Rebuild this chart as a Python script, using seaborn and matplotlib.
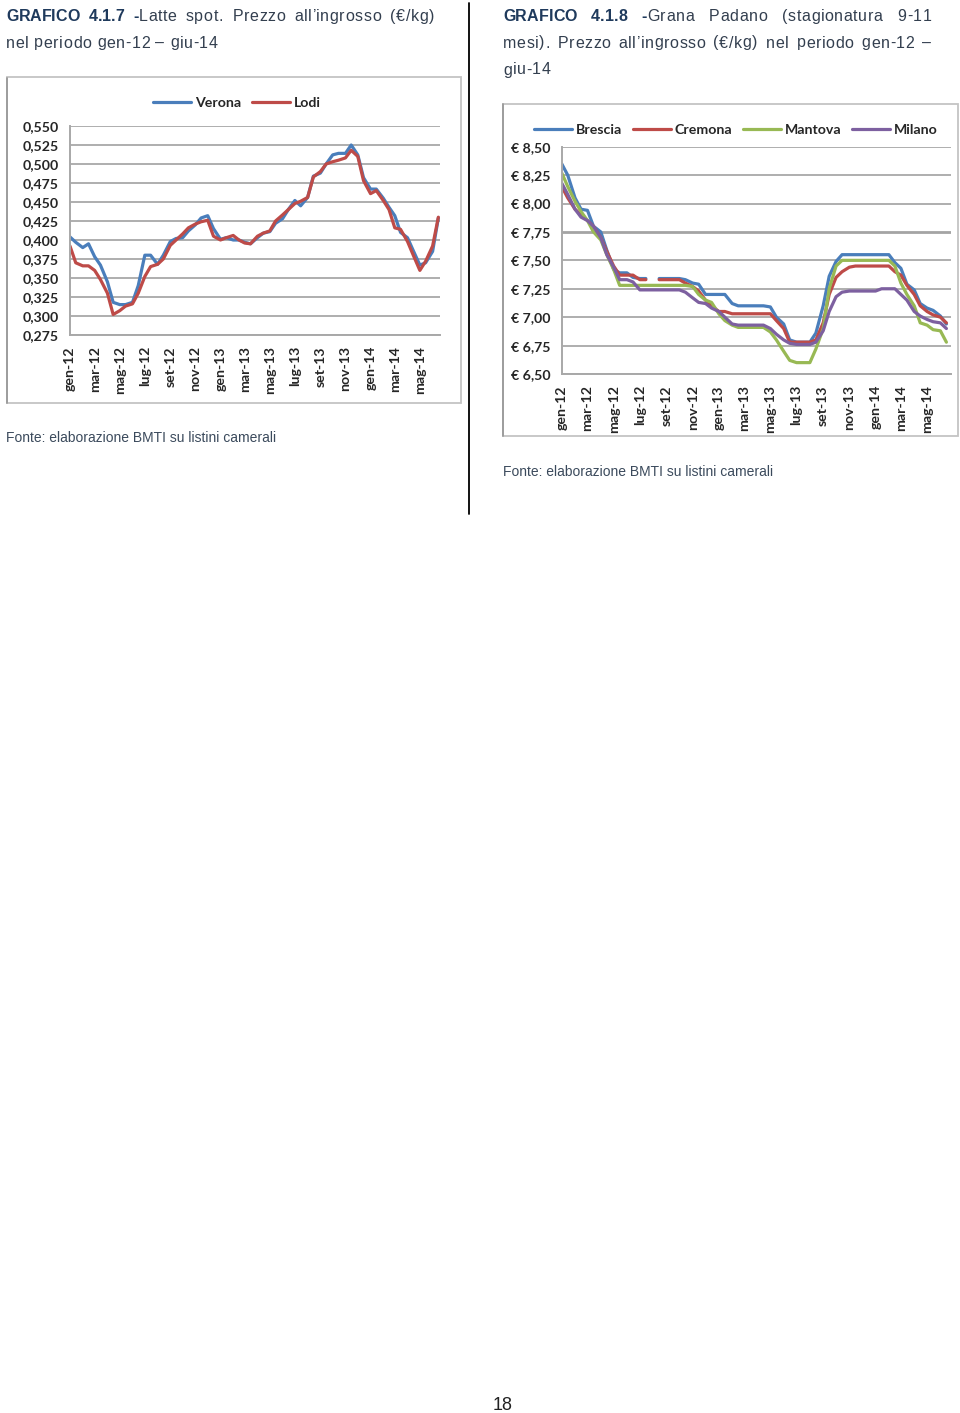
import numpy as np
import pandas as pd
import matplotlib
matplotlib.use("Agg")
import matplotlib.pyplot as plt
import seaborn as sns
from matplotlib.patches import Rectangle
from matplotlib.lines import Line2D

nan = np.nan

# ---------------- data ----------------
dates = pd.date_range("2012-01-01", periods=60, freq="SMS")
tick_dates = pd.date_range("2012-01-01", periods=15, freq="2MS")
tick_labels = ["gen-12", "mar-12", "mag-12", "lug-12", "set-12", "nov-12",
               "gen-13", "mar-13", "mag-13", "lug-13", "set-13", "nov-13",
               "gen-14", "mar-14", "mag-14"]

verona = [0.404, 0.397, 0.390, 0.395, 0.378, 0.367, 0.345, 0.318, 0.315, 0.315,
          0.318, 0.340, 0.380, 0.380, 0.368, 0.380, 0.398, 0.402, 0.403, 0.412,
          0.420, 0.429, 0.432, 0.415, 0.401, 0.403, 0.400, 0.400, 0.397, 0.395,
          0.403, 0.409, 0.411, 0.422, 0.428, 0.440, 0.452, 0.445, 0.456, 0.484,
          0.488, 0.500, 0.512, 0.514, 0.514, 0.525, 0.512, 0.482, 0.467, 0.467,
          0.455, 0.443, 0.432, 0.410, 0.403, 0.386, 0.367, 0.370, 0.385, 0.429]
lodi = [0.392, 0.370, 0.366, 0.366, 0.360, 0.348, 0.330, 0.302, 0.307, 0.313,
        0.316, 0.330, 0.352, 0.365, 0.368, 0.375, 0.393, 0.400, 0.408, 0.416,
        0.421, 0.424, 0.426, 0.405, 0.400, 0.403, 0.406, 0.400, 0.396, 0.395,
        0.405, 0.409, 0.412, 0.425, 0.433, 0.440, 0.448, 0.451, 0.456, 0.483,
        0.490, 0.500, 0.503, 0.505, 0.508, 0.518, 0.510, 0.478, 0.461, 0.465,
        0.452, 0.440, 0.416, 0.414, 0.398, 0.380, 0.360, 0.372, 0.392, 0.430]

brescia = [8.35, 8.25, 8.05, 7.95, 7.94, 7.80, 7.75, 7.59, 7.42, 7.39,
           7.39, 7.35, 7.34, 7.34, nan, 7.34, 7.34, 7.34, 7.34, 7.33,
           7.30, 7.29, 7.20, 7.20, 7.20, 7.20, 7.12, 7.10, 7.10, 7.10,
           7.10, 7.10, 7.09, 7.00, 6.94, 6.80, 6.78, 6.78, 6.78, 6.86,
           7.10, 7.36, 7.49, 7.55, 7.55, 7.55, 7.55, 7.55, 7.55, 7.55,
           7.55, 7.48, 7.43, 7.29, 7.24, 7.12, 7.08, 7.06, 7.01, 6.94]
cremona = [8.15, 8.05, 7.95, 7.90, 7.85, 7.80, 7.70, 7.58, 7.45, 7.37,
           7.37, 7.37, 7.33, 7.33, nan, 7.33, 7.33, 7.33, 7.33, 7.30,
           7.27, 7.23, 7.15, 7.10, 7.05, 7.05, 7.03, 7.03, 7.03, 7.03,
           7.03, 7.03, 7.03, 6.97, 6.90, 6.78, 6.78, 6.78, 6.78, 6.80,
           6.95, 7.20, 7.35, 7.40, 7.44, 7.45, 7.45, 7.45, 7.45, 7.45,
           7.45, 7.40, 7.37, 7.28, 7.20, 7.10, 7.05, 7.02, 7.00, 6.95]
mantova = [8.27, 8.15, 8.02, 7.93, 7.85, 7.75, 7.68, 7.55, 7.42, 7.28,
           7.28, 7.28, 7.28, 7.28, 7.28, 7.28, 7.28, 7.28, 7.28, 7.28,
           7.27, 7.20, 7.15, 7.13, 7.03, 6.97, 6.93, 6.91, 6.91, 6.91,
           6.91, 6.91, 6.87, 6.80, 6.70, 6.62, 6.60, 6.60, 6.60, 6.72,
           6.90, 7.25, 7.45, 7.50, 7.50, 7.50, 7.50, 7.50, 7.50, 7.50,
           7.50, 7.45, 7.30, 7.20, 7.10, 6.95, 6.93, 6.89, 6.88, 6.78]
milano = [8.18, 8.08, 7.95, 7.88, 7.85, 7.80, 7.70, 7.55, 7.44, 7.33,
          7.33, 7.31, 7.24, 7.24, 7.24, 7.24, 7.24, 7.24, 7.24, 7.22,
          7.17, 7.13, 7.12, 7.08, 7.05, 7.00, 6.94, 6.93, 6.93, 6.93,
          6.93, 6.93, 6.90, 6.85, 6.80, 6.77, 6.76, 6.76, 6.76, 6.78,
          6.88, 7.05, 7.18, 7.22, 7.23, 7.23, 7.23, 7.23, 7.23, 7.25,
          7.25, 7.25, 7.20, 7.15, 7.05, 7.01, 6.98, 6.96, 6.95, 6.90]

left_series = {"Verona": verona, "Lodi": lodi}
right_series = {"Brescia": brescia, "Cremona": cremona, "Mantova": mantova, "Milano": milano}
left_colors = ["#4A7EBB", "#BE4B48"]
right_colors = ["#4A7EBB", "#BE4B48", "#98B954", "#7D60A0"]
left_yticks = [0.275, 0.300, 0.325, 0.350, 0.375, 0.400, 0.425, 0.450, 0.475, 0.500, 0.525, 0.550]
right_yticks = [6.50, 6.75, 7.00, 7.25, 7.50, 7.75, 8.00, 8.25, 8.50]


def long_df(series):
    frames = []
    for name, vals in series.items():
        v = np.asarray(vals, dtype=float)
        seg = np.cumsum(np.isnan(v))
        d = pd.DataFrame({"date": dates, "value": v, "series": name, "seg": seg})
        frames.append(d.dropna())
    return pd.concat(frames, ignore_index=True)


# ---------------- figure ----------------
W, H = 960, 1413
sns.set_style("white")
plt.rcParams["font.family"] = ["Liberation Sans", "DejaVu Sans"]
fig = plt.figure(figsize=(W / 100, H / 100), dpi=100)


def fx(px):
    return px / W


def fy(py):
    return 1 - py / H


CH_SIZE = 10.2
CH_FONT = dict(family=["Lato", "DejaVu Sans"], weight="bold", size=CH_SIZE)
CH_COLOR = "#262626"
GRID = "#a8a8a8"

# chart frames
for (x0, y0, x1, y1) in [(6.5, 77.5, 461, 403), (503, 103.5, 958, 435.5)]:
    fig.add_artist(Rectangle((fx(x0), fy(y1)), (x1 - x0) / W, (y1 - y0) / H,
                             transform=fig.transFigure, fill=False,
                             ec="#c4c4c4", lw=1.3))
    fig.add_artist(Line2D([fx(x0), fx(x0)], [fy(y0), fy(y1)], transform=fig.transFigure,
                          color="#9a9a9a", lw=1.3))

# divider line
fig.add_artist(Line2D([fx(469), fx(469)], [fy(3), fy(514)], transform=fig.transFigure,
                      color="black", lw=1.3))

ax1 = fig.add_axes([fx(70), fy(335), (440 - 70) / W, (335 - 126) / H])
ax2 = fig.add_axes([fx(561.7), fy(374), (950.7 - 561.7) / W, (374 - 146.7) / H])

sns.lineplot(data=long_df(left_series), x="date", y="value", hue="series",
             units="seg", estimator=None, palette=left_colors, lw=2.3, ax=ax1)
sns.lineplot(data=long_df(right_series), x="date", y="value", hue="series",
             units="seg", estimator=None, palette=right_colors, lw=2.3, ax=ax2)

setups = [
    (ax1, left_yticks, [f"{t:.3f}".replace(".", ",") for t in left_yticks],
     pd.Timestamp("2014-06-19"), (0.451, 1.110), 2),
    (ax2, right_yticks, [f"€ {t:.2f}".replace(".", ",") for t in right_yticks],
     pd.Timestamp("2014-06-25"), (0.447, 1.073), 4),
]
for ax, yt, ylab, xend, legpos, ncol in setups:
    ax.set_facecolor("none")
    ax.set_xlim(pd.Timestamp("2012-01-01"), xend)
    ax.set_ylim(yt[0], yt[-1])
    ax.set_yticks(yt)
    ax.set_yticklabels(ylab, fontdict=CH_FONT, color=CH_COLOR)
    ax.set_xticks(tick_dates)
    ax.set_xticklabels(tick_labels, fontdict=CH_FONT, color=CH_COLOR,
                       rotation=90, ha="center", va="top")
    ax.set_xlabel("")
    ax.set_ylabel("")
    for s in ["top", "right"]:
        ax.spines[s].set_visible(False)
    for s in ["left", "bottom"]:
        ax.spines[s].set_color(GRID)
        ax.spines[s].set_linewidth(1.4)
    ax.grid(axis="y", color=GRID, lw=1.3)
    ax.grid(axis="x", visible=False)
    ax.set_axisbelow(True)
    ax.tick_params(axis="both", length=5, width=1.2, color=GRID, direction="out")
    ax.tick_params(axis="x", pad=3)
    ax.tick_params(axis="y", pad=3)
    sns.move_legend(ax, "center", bbox_to_anchor=legpos, ncol=ncol, frameon=False,
                    title=None, handlelength=2.7, handletextpad=0.25,
                    columnspacing=0.75, prop=dict(family=["Lato", "DejaVu Sans"],
                                                  weight="bold", size=CH_SIZE))
    for t in ax.get_legend().get_texts():
        t.set_color(CH_COLOR)

# slightly heavier 7,75 gridline as in the reference
for gl, val in zip(ax2.get_ygridlines(), right_yticks):
    if abs(val - 7.75) < 1e-6:
        gl.set_linewidth(2.0)
        gl.set_color("#a4a4a4")

# ---------------- text ----------------
renderer = fig.canvas.get_renderer()
TSIZE = 11.5
TRACK = 0.6
BOLD_C = "#1f3a5c"
REG_C = "#333f4f"
_wcache = {}


def char_w(c, weight, size):
    key = (c, weight, size)
    if key not in _wcache:
        t = fig.text(0, 0, "x" + c + "x", fontsize=size, weight=weight)
        w3 = t.get_window_extent(renderer).width
        t.remove()
        t = fig.text(0, 0, "xx", fontsize=size, weight=weight)
        w2 = t.get_window_extent(renderer).width
        t.remove()
        _wcache[key] = w3 - w2
    return _wcache[key]


def word_w(word, size):
    w = 0
    for frag, wt in word:
        tr = 0 if wt == "bold" else TRACK
        w += sum(char_w(c, wt, size) + tr for c in frag)
    return w


def draw_word(word, x, y, size, color_reg=REG_C):
    for frag, wt in word:
        tr = 0 if wt == "bold" else TRACK
        for c in frag:
            fig.text(fx(x), fy(y), c, fontsize=size, weight=wt,
                     color=BOLD_C if wt == "bold" else color_reg,
                     ha="left", va="baseline")
            x += char_w(c, wt, size) + tr
    return x


def draw_line(words, x0, y, x1=None, size=TSIZE, color_reg=REG_C):
    totals = [word_w(w, size) for w in words]
    if x1 is not None and len(words) > 1:
        gap = (x1 - x0 - sum(totals)) / (len(words) - 1)
    else:
        gap = char_w(" ", "normal", size) + TRACK
    x = x0
    for word in words:
        draw_word(word, x, y, size, color_reg)
        x += word_w(word, size) + gap


def R(*ws):
    return [[(w, "normal")] for w in ws]


B = "bold"
draw_line([[("GRAFICO", B)], [("4.1.7", B)], [("-", B), ("Latte", "normal")]]
          + R("spot.", "Prezzo", "all’ingrosso", "(€/kg)"), 6, 21, 435)
draw_line(R("nel", "periodo", "gen-12", "–", "giu-14"), 6, 47.5)

draw_line([[("GRAFICO", B)], [("4.1.8", B)], [("-", B), ("Grana", "normal")]]
          + R("Padano", "(stagionatura", "9-11"), 503, 21, 932)
draw_line(R("mesi).", "Prezzo", "all’ingrosso", "(€/kg)", "nel", "periodo", "gen-12", "–"),
          503, 47.5, 932)
draw_line(R("giu-14"), 503, 74.5)

fig.text(fx(6), fy(441.5), "Fonte: elaborazione BMTI su listini camerali",
         fontsize=10, color="#3b4a5c", ha="left", va="baseline")
fig.text(fx(503), fy(475.5), "Fonte: elaborazione BMTI su listini camerali",
         fontsize=10, color="#3b4a5c", ha="left", va="baseline")
fig.text(fx(503), fy(1410), "18", fontsize=13, color="#222222", ha="center", va="baseline")

fig.savefig("out.png", dpi=100, facecolor="white")
